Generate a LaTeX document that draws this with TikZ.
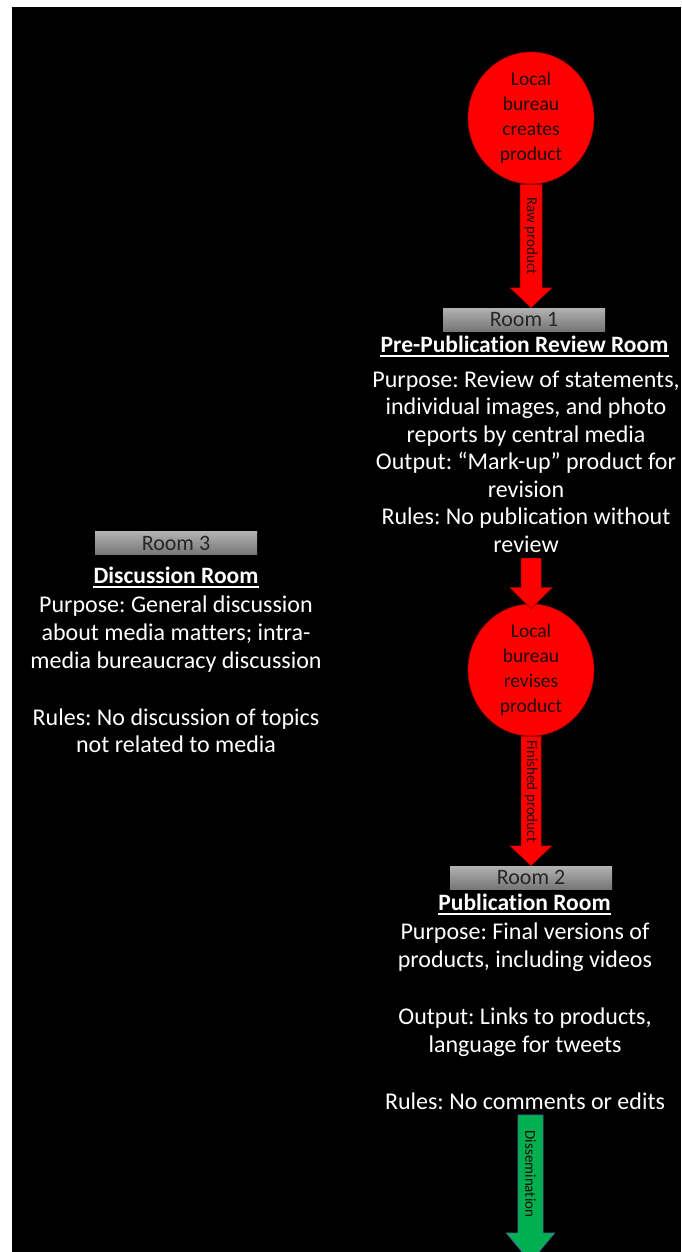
\documentclass[tikz,border=0pt]{standalone}
\usepackage{fontspec}
\setmainfont{Carlito}[Ligatures=NoCommon]
\frenchspacing
\usetikzlibrary{calc,shapes.geometric}
\definecolor{bred}{RGB}{255,0,0}
\definecolor{bredline}{RGB}{150,0,0}
\definecolor{bgreen}{RGB}{0,176,80}
\definecolor{bgreenline}{RGB}{65,113,156}
\definecolor{roomtxt}{RGB}{38,38,38}
\definecolor{roomtop}{RGB}{178,178,178}
\definecolor{roombot}{RGB}{118,118,118}
\definecolor{labtxt}{RGB}{30,10,10}
\tikzset{
  bubble/.style={ellipse, fill=bred, draw=bredline, line width=0.6pt, minimum width=126pt, minimum height=132pt, inner sep=0pt, align=center, font=\fontsize{19.5}{25}\selectfont, text=labtxt},
  roombox/.style={minimum width=162pt, minimum height=23pt, inner sep=0pt, top color=roomtop, bottom color=roombot, text=roomtxt, font=\fontsize{22}{24}\selectfont},
  roomtitle/.style={font=\fontsize{23.5}{28}\selectfont\bfseries, text=white, inner sep=0pt, anchor=base},
  bodyline/.style={font=\fontsize{24}{28}\selectfont, text=white, inner sep=0pt, anchor=base},
  redarrow/.style={fill=bred, draw=bredline, line width=0.5pt},
  greenarrow/.style={fill=bgreen, draw=bgreenline, line width=0.8pt},
  arrowlabel/.style={rotate=-90, font=\fontsize{15}{16}\selectfont, text=labtxt, inner sep=0pt},
  uline/.style={white, line width=1.6pt}
}
% #1 style, #2 start, #3 tip, #4 half shaft, #5 half head, #6 head length, #7 label name, #8 label
\newcommand{\blockarrow}[8]{%
  \draw[#1] ($(#2)+(-#4,0)$) -- ($(#3)+(-#4,-#6)$) -- ($(#3)+(-#5,-#6)$) -- (#3) -- ($(#3)+(#5,-#6)$) -- ($(#3)+(#4,-#6)$) -- ($(#2)+(#4,0)$) -- cycle;
  \path (#2) -- ($(#3)+(0,-#6)$) node[midway, arrowlabel] (#7) {#8};
}
\begin{document}
\begin{tikzpicture}[x=1pt,y=-1pt]
\useasboundingbox (0,0) rectangle (681,1252);
\fill[white] (0,0) rectangle (681,1252);
\fill[black] (12,7) rectangle (681,1252);

% bubbles and room boxes
\node[bubble] (c1) at (531,118) {Local\\bureau\\creates\\product};
\node[roombox] (room1) at (524,319.5) {Room 1};
\node[bubble] (c2) at (531,670) {Local\\bureau\\revises\\product};
\node[roombox] (room2) at (531,877.5) {Room 2};
\node[roombox] (room3) at (176,543) {Room 3};

% Room 1 texts
\node[roomtitle] (t1) at (524.5,352) {Pre-Publication Review Room};
\draw[uline] ($(t1.base west)+(0,4)$) -- ($(t1.base east)+(0,4)$);
\foreach \yy/\tt [count=\i] in {387/{Purpose: Review of statements,},414.5/{individual images, and photo},442/{reports by central media},469.5/{Output: “Mark-up” product for},497/{revision},524.5/{Rules: No publication without},552/{review}}
  \node[bodyline] (ra\i) at (526,\yy) {\tt};

% Room 2 texts
\node[roomtitle] (t2) at (524.5,910) {Publication Room};
\draw[uline] ($(t2.base west)+(0,4)$) -- ($(t2.base east)+(0,4)$);
\foreach \yy/\tt [count=\i] in {939/{Purpose: Final versions of},967/{products, including videos},1024/{Output: Links to products,},1052/{language for tweets},1109/{Rules: No comments or edits}}
  \node[bodyline] (rb\i) at (525,\yy) {\tt};

% Room 3 texts
\node[roomtitle] (t3) at (176,583) {Discussion Room};
\draw[uline] ($(t3.base west)+(0,4)$) -- ($(t3.base east)+(0,4)$);
\foreach \yy/\tt [count=\i] in {612/{Purpose: General discussion},640/{about media matters; intra-},668/{media bureaucracy discussion},725/{Rules: No discussion of topics},752/{not related to media}}
  \node[bodyline] (rc\i) at (176,\yy) {\tt};

% arrows
\coordinate (a1s) at (c1.south);
\coordinate (a1e) at (c1.south |- room1.north);
\blockarrow{redarrow}{a1s}{a1e}{11}{21}{20}{l1}{Raw product}

\coordinate (a2s) at (531,558);
\coordinate (a2e) at ($(c2.north)+(0,5)$);
\blockarrow{redarrow}{a2s}{a2e}{10}{21}{21}{l2}{}

\coordinate (a3s) at (c2.south);
\coordinate (a3e) at (c2.south |- room2.north);
\blockarrow{redarrow}{a3s}{a3e}{10}{21}{20}{l3}{Finished product}

\coordinate (a4s) at (530.5,1115);
\coordinate (a4e) at (530.5,1262);
\blockarrow{greenarrow}{a4s}{a4e}{12.5}{24}{29}{l4}{Dissemination}
\end{tikzpicture}
\end{document}
